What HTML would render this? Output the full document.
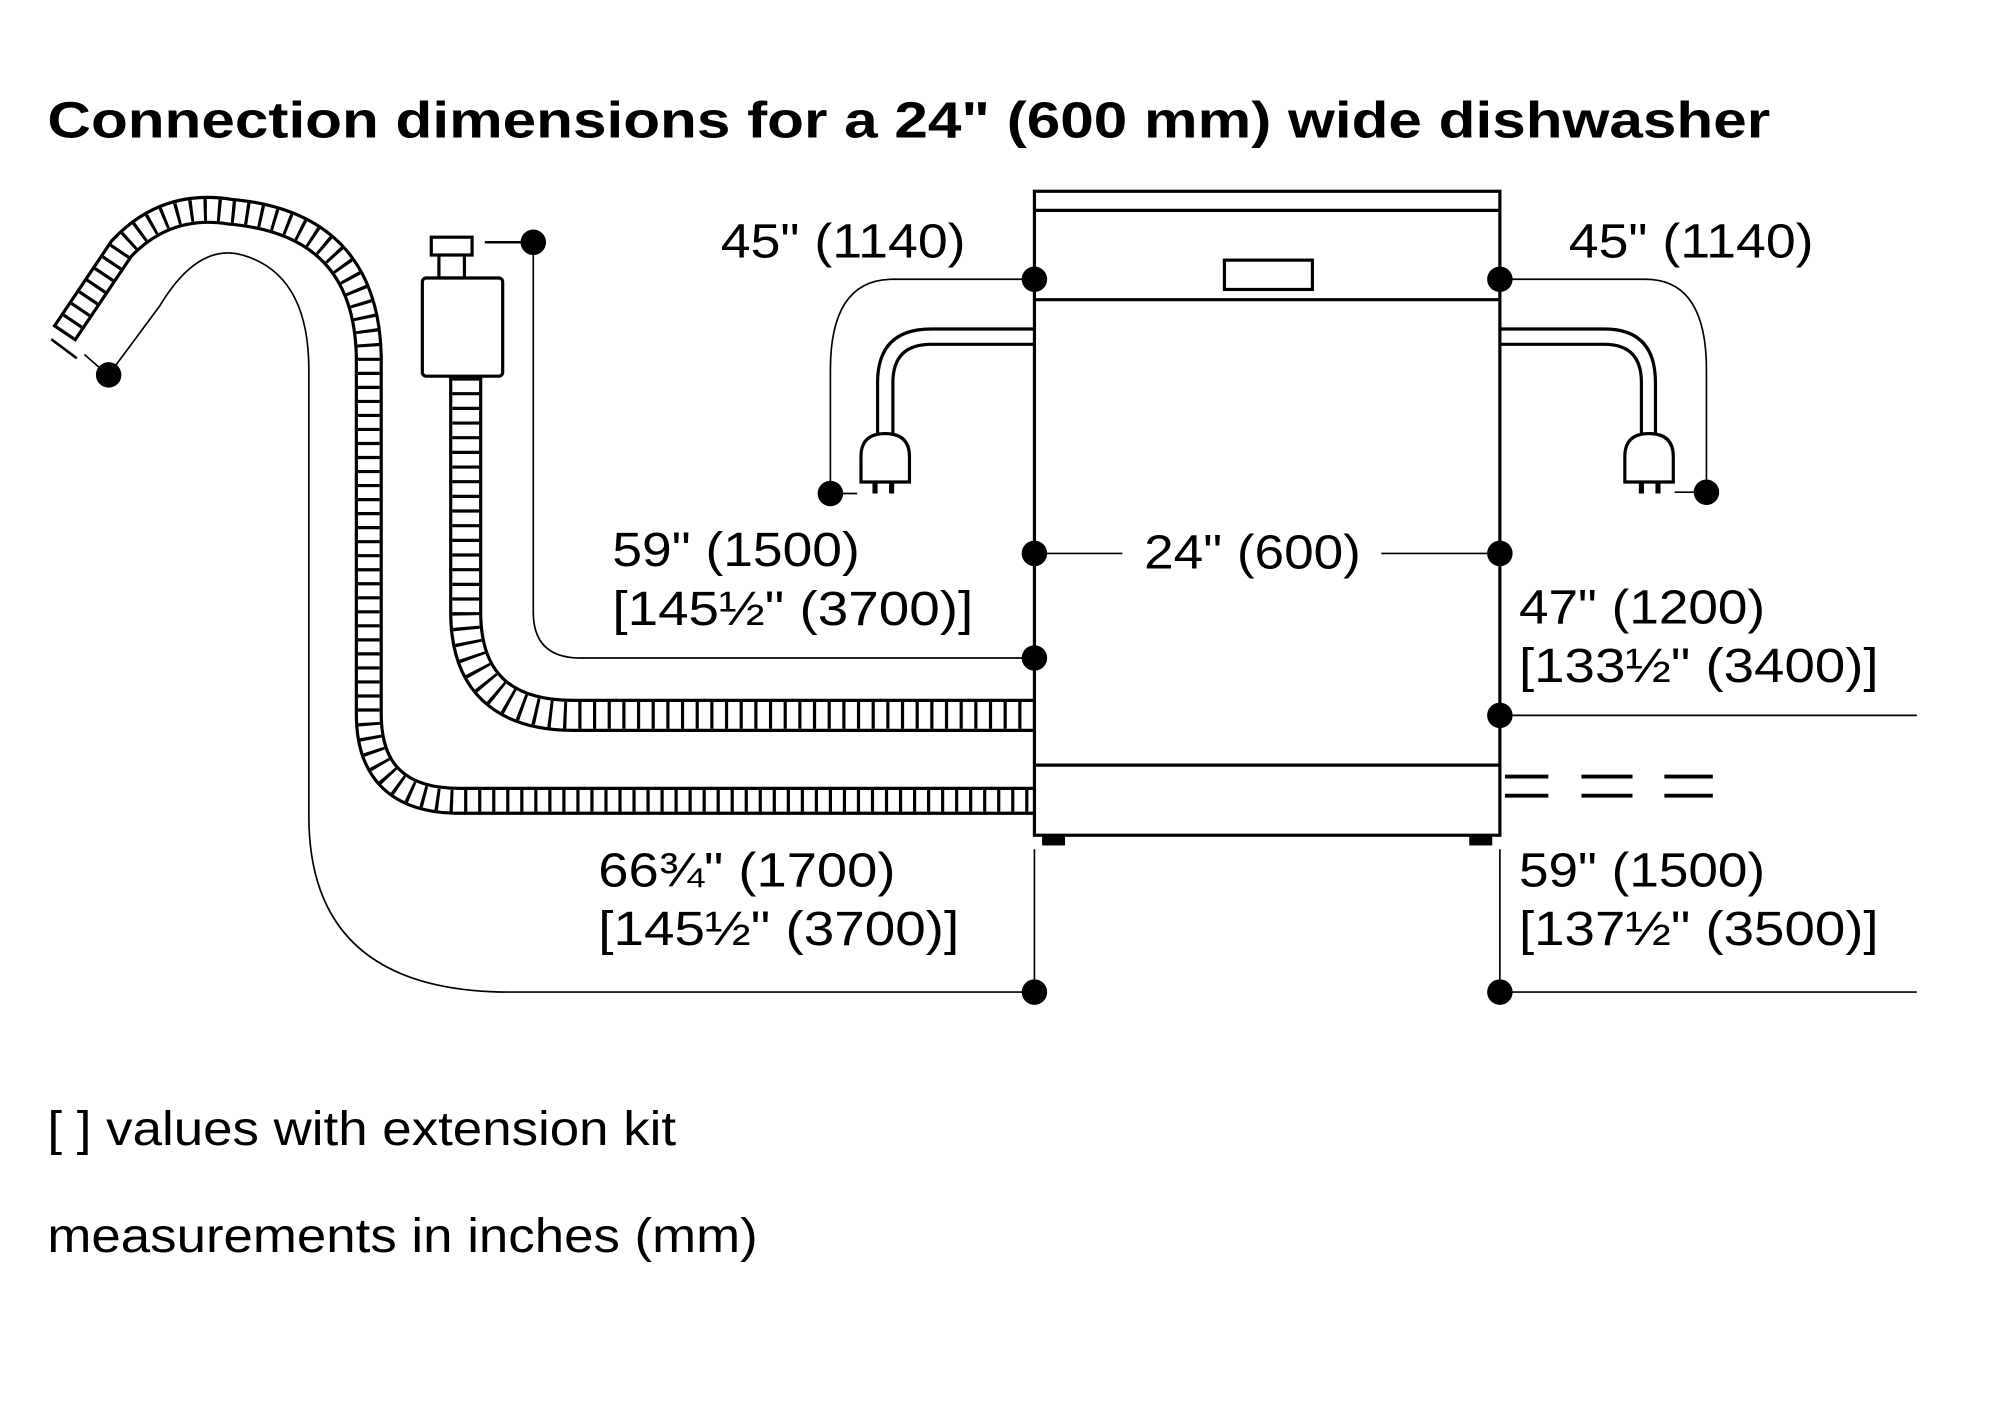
<!DOCTYPE html>
<html><head><meta charset="utf-8"><style>
html,body{margin:0;padding:0;background:#fff}
svg{display:block}
text{font-family:"Liberation Sans",sans-serif;fill:#000}
</style></head><body>
<svg width="2000" height="1418" viewBox="0 0 1568 1112" xmlns="http://www.w3.org/2000/svg">
<rect width="1568" height="1112" fill="#fff"/>
<text x="37" y="108" font-size="40" font-weight="bold" textLength="1351" lengthAdjust="spacingAndGlyphs">Connection dimensions for a 24" (600 mm) wide dishwasher</text>

<g fill="none" stroke="#000">
<path d="M50,262 L95,195 Q130,158 180,166 Q287,175 289,280 L289,560 Q289,628 360,628 L811,628" stroke-width="22"/>
<path d="M50,262 L95,195 Q130,158 180,166 Q287,175 289,280 L289,560 Q289,628 360,628 L811,628" stroke="#fff" stroke-width="17"/>
<path d="M50,262 L95,195 Q130,158 180,166 Q287,175 289,280 L289,560 Q289,628 360,628 L811,628" stroke-width="17" stroke-dasharray="2.5 8.5"/>
<path d="M365,296 L365,480 Q365,561 450,561 L811,561" stroke-width="26"/>
<path d="M365,296 L365,480 Q365,561 450,561 L811,561" stroke="#fff" stroke-width="21"/>
<path d="M365,296 L365,480 Q365,561 450,561 L811,561" stroke-width="21" stroke-dasharray="2.5 9"/>
</g>
<line x1="40" y1="266" x2="60" y2="281" stroke="#000" stroke-width="2"/>
<g stroke="#000" stroke-width="2.5" fill="#fff">
<rect x="338" y="186" width="32" height="14"/>
<rect x="344" y="200" width="20" height="18"/>
<rect x="331" y="218" width="63" height="77" rx="3"/>
</g>

<g fill="none" stroke="#000" stroke-width="1.3">
<line x1="66" y1="278" x2="82" y2="292"/>
<path d="M85,294 L125,240 Q155,190 190,200 Q242,215 242,290 L242,640 Q242,778 400,778 L811,778"/>
<line x1="380" y1="190" x2="418" y2="190" stroke-width="2"/>
<path d="M418,190 L418,480 Q418,516 455,516 L811,516"/>
<path d="M811,219 L700,219 Q651,219 651,290 L651,387"/>
<line x1="651" y1="387" x2="672" y2="387"/>
<path d="M1176,219 L1290,219 Q1338,219 1338,290 L1338,386"/>
<line x1="1313" y1="386" x2="1338" y2="386"/>
<line x1="811" y1="434" x2="880" y2="434"/>
<line x1="1083" y1="434" x2="1176" y2="434"/>
<line x1="1176" y1="561" x2="1503" y2="561"/>
<line x1="1176" y1="778" x2="1503" y2="778"/>
<line x1="811" y1="666" x2="811" y2="778"/>
<line x1="1176" y1="666" x2="1176" y2="778"/>
</g>

<g fill="none" stroke="#000" stroke-width="2.5">
<path d="M811,258 L730,258 Q688,258 688,300 L688,343"/>
<path d="M811,270 L730,270 Q700,270 700,300 L700,343"/>
<path d="M1176,258 L1258,258 Q1298,258 1298,300 L1298,343"/>
<path d="M1176,270 L1258,270 Q1287,270 1287,300 L1287,343"/>
</g>
<g stroke="#000" stroke-width="2.5" fill="#fff">
<path d="M675,378 L675,358 Q675,340 694,340 Q713,340 713,358 L713,378 Z"/>
<path d="M1274,378 L1274,358 Q1274,340 1293,340 Q1312,340 1312,358 L1312,378 Z"/>
</g>
<g fill="#000">
<rect x="684" y="378" width="4" height="9"/><rect x="697" y="378" width="4" height="9"/>
<rect x="1285" y="378" width="4" height="9"/><rect x="1298" y="378" width="4" height="9"/>
</g>

<g fill="none" stroke="#000" stroke-width="2.5">
<rect x="811" y="150" width="365" height="505"/>
<line x1="811" y1="165" x2="1176" y2="165"/>
<line x1="811" y1="235" x2="1176" y2="235"/>
<line x1="811" y1="600" x2="1176" y2="600"/>
<rect x="960" y="204" width="69" height="23"/>
</g>
<g fill="#000">
<rect x="817" y="655" width="18" height="8"/>
<rect x="1152" y="655" width="18" height="8"/>
</g>
<g stroke="#000" stroke-width="3">
<line x1="1180" y1="609" x2="1214" y2="609"/><line x1="1180" y1="624" x2="1214" y2="624"/>
<line x1="1240" y1="609" x2="1280" y2="609"/><line x1="1240" y1="624" x2="1280" y2="624"/>
<line x1="1305" y1="609" x2="1343" y2="609"/><line x1="1305" y1="624" x2="1343" y2="624"/>
</g>

<g fill="#000">
<circle cx="85" cy="294" r="10"/><circle cx="418" cy="190" r="10"/>
<circle cx="651" cy="387" r="10"/><circle cx="1338" cy="386" r="10"/>
<circle cx="811" cy="219" r="10"/><circle cx="1176" cy="219" r="10"/>
<circle cx="811" cy="434" r="10"/><circle cx="1176" cy="434" r="10"/>
<circle cx="811" cy="516" r="10"/><circle cx="1176" cy="561" r="10"/>
<circle cx="811" cy="778" r="10"/><circle cx="1176" cy="778" r="10"/>
</g>

<g font-size="38">
<text x="565" y="202" textLength="192" lengthAdjust="spacingAndGlyphs">45" (1140)</text>
<text x="1230" y="202" textLength="192" lengthAdjust="spacingAndGlyphs">45" (1140)</text>
<text x="897" y="446" textLength="170" lengthAdjust="spacingAndGlyphs">24" (600)</text>
<text x="480" y="444" textLength="194" lengthAdjust="spacingAndGlyphs">59" (1500)</text>
<text x="480" y="490" textLength="283" lengthAdjust="spacingAndGlyphs">[145½" (3700)]</text>
<text x="1191" y="489" textLength="193" lengthAdjust="spacingAndGlyphs">47" (1200)</text>
<text x="1191" y="535" textLength="282" lengthAdjust="spacingAndGlyphs">[133½" (3400)]</text>
<text x="469" y="695" textLength="233" lengthAdjust="spacingAndGlyphs">66¾" (1700)</text>
<text x="469" y="741" textLength="283" lengthAdjust="spacingAndGlyphs">[145½" (3700)]</text>
<text x="1191" y="695" textLength="193" lengthAdjust="spacingAndGlyphs">59" (1500)</text>
<text x="1191" y="741" textLength="282" lengthAdjust="spacingAndGlyphs">[137½" (3500)]</text>
<text x="37" y="898" textLength="493" lengthAdjust="spacingAndGlyphs">[ ] values with extension kit</text>
<text x="37" y="982" textLength="557" lengthAdjust="spacingAndGlyphs">measurements in inches (mm)</text>
</g>
</svg>
</body></html>
